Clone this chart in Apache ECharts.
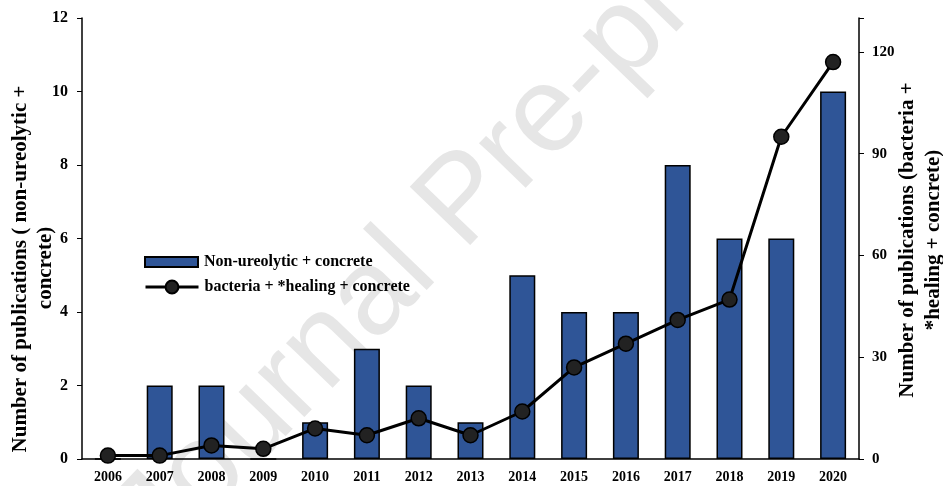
<!DOCTYPE html>
<html><head><meta charset="utf-8">
<script src="https://cdn.jsdelivr.net/npm/echarts@6/dist/echarts.min.js"></script>
<style>html,body{margin:0;padding:0;background:#fff}#c{width:943px;height:486px}</style>
</head><body><div id="c"></div>
<script>
const years = ['2006','2007','2008','2009','2010','2011','2012','2013','2014','2015','2016','2017','2018','2019','2020'];
const nonUreolytic = [0,2,2,0,1,3,2,1,5,4,4,8,6,6,10];
const bacteriaHealing = [1,1,4,3,9,7,12,7,14,27,34,41,47,95,117];
const leftTicks = [0,2,4,6,8,10,12];
const rightTicks = [0,30,60,90,120];

const F = '"Liberation Serif","Times New Roman",serif';
const chart = echarts.init(document.getElementById('c'));
chart.setOption({
  animation:false,
  backgroundColor:'#fff',
  grid:{left:82,right:84,top:18,bottom:27},
  legend:[{
    data:[{name:'Non-ureolytic + concrete',icon:'rect'}],
    left:144, top:254, padding:0, itemWidth:53, itemHeight:10, itemGap:0,
    textStyle:{fontFamily:F,fontWeight:'bold',fontSize:16,color:'#000',padding:[0,0,0,1]}
  },{
    data:['bacteria + *healing + concrete'],
    left:144, top:279, padding:0, itemWidth:53, itemHeight:16,
    lineStyle:{width:3,color:'#000'},
    textStyle:{fontFamily:F,fontWeight:'bold',fontSize:16,color:'#000',padding:[0,0,0,1]}
  }],
  xAxis:{
    type:'category', data:years,
    axisLine:{lineStyle:{color:'#000',width:1.5}},
    axisTick:{show:false},
    axisLabel:{fontFamily:F,fontWeight:'bold',fontSize:14,color:'#000',margin:11}
  },
  yAxis:[{
    type:'value', min:0, max:12, interval:2,
    axisLine:{show:true,lineStyle:{color:'#000',width:1.5}},
    axisTick:{show:true,length:5,lineStyle:{color:'#000'}},
    splitLine:{show:false},
    axisLabel:{fontFamily:F,fontWeight:'bold',fontSize:16,color:'#000',margin:14,
      formatter:v=>leftTicks.includes(v)?String(v):''}
  },{
    type:'value', min:0, max:130, interval:30, position:'right',
    axisLine:{show:true,lineStyle:{color:'#000',width:1.5}},
    axisTick:{show:true,length:5,lineStyle:{color:'#000'}},
    splitLine:{show:false},
    axisLabel:{fontFamily:F,fontWeight:'bold',fontSize:15,color:'#000',margin:13,
      formatter:v=>rightTicks.includes(v)?String(v):''}
  }],
  series:[{
    name:'Non-ureolytic + concrete', type:'bar', data:nonUreolytic, yAxisIndex:0,
    barWidth:26,
    itemStyle:{color:'#2F5597',borderColor:'#000',borderWidth:1.5},
    z:2
  },{
    name:'bacteria + *healing + concrete', type:'line', data:bacteriaHealing, yAxisIndex:1,
    symbol:'circle', symbolSize:15,
    lineStyle:{color:'#000',width:3},
    itemStyle:{color:'#222',borderColor:'#000',borderWidth:1.5},
    z:3
  }],
  graphic:[{
    type:'text', z:-10, silent:true,
    x:465, y:202, rotation:46*Math.PI/180,
    style:{text:'Journal Pre-proof', fill:'#e6e6e6', font:'122px "Liberation Sans", Arial, sans-serif',
      align:'center', verticalAlign:'middle'}
  },{
    type:'text', x:21, y:269, rotation:Math.PI/2,
    style:{text:'Number of publications ( non-ureolytic +', fill:'#000',
      font:'bold 21px "Liberation Serif", serif', align:'center', verticalAlign:'middle'}
  },{
    type:'text', x:46, y:268, rotation:Math.PI/2,
    style:{text:'concrete)', fill:'#000',
      font:'bold 21px "Liberation Serif", serif', align:'center', verticalAlign:'middle'}
  },{
    type:'text', x:908, y:240, rotation:Math.PI/2,
    style:{text:'Number of publications (bacteria +', fill:'#000',
      font:'bold 21px "Liberation Serif", serif', align:'center', verticalAlign:'middle'}
  },{
    type:'text', x:934, y:240, rotation:Math.PI/2,
    style:{text:'*healing + concrete)', fill:'#000',
      font:'bold 21px "Liberation Serif", serif', align:'center', verticalAlign:'middle'}
  }]
});
</script></body></html>
